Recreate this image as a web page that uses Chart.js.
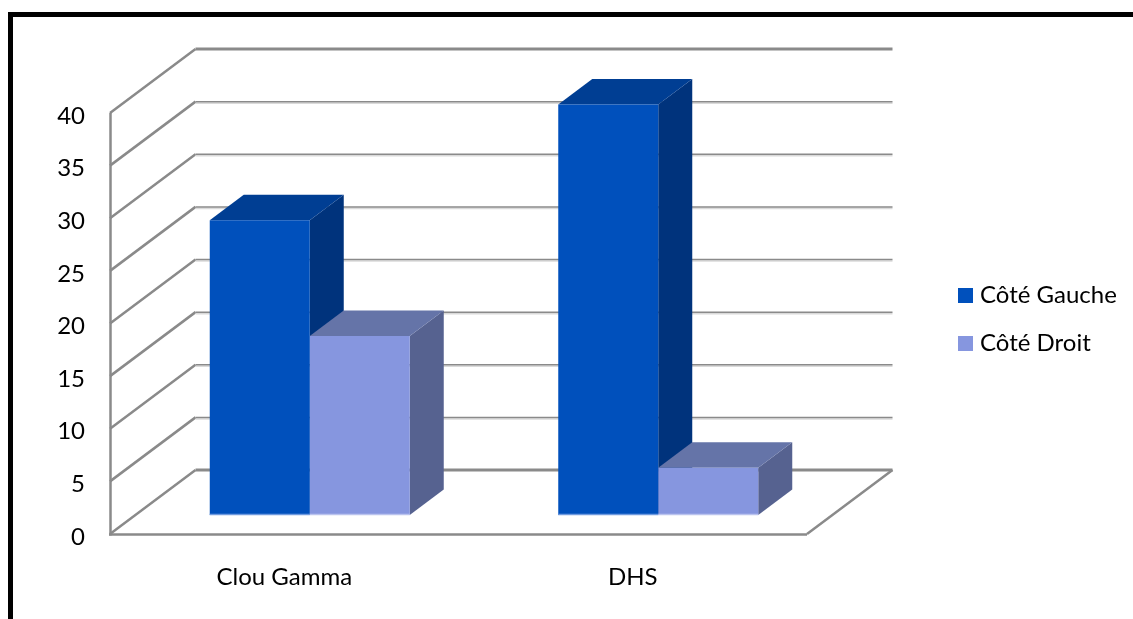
<!DOCTYPE html>
<html lang="fr">
<head>
<meta charset="utf-8">
<style>
html,body{margin:0;padding:0;background:#fff;width:1133px;height:619px;overflow:hidden}
#frame{position:absolute;left:8px;top:12px;width:1125px;height:607px;box-sizing:border-box;border-top:5px solid #000;border-left:5px solid #000}
#wrap{position:absolute;left:0;top:0;width:1133px;height:619px}
</style>
<script src="https://cdn.jsdelivr.net/npm/chart.js@4"></script>
</head>
<body>
<div id="frame"></div>
<div id="wrap"><canvas id="c" width="1133" height="619"></canvas></div>
<script>
const categories = ['Clou Gamma', 'DHS'];
const seriesNames = ['Côté Gauche', 'Côté Droit'];
const coteGauche = [28, 39];
const coteDroit = [17, 4.5];
const yTickStep = 5;
const yMax = 40;

const frontColors = ['#0050BC', '#8696DF'];
const topColors = ['#003E93', '#6574A8'];
const sideColors = ['#00337C', '#566290'];
const edgeColors = ['#6F9ADF', '#BAC3EE'];
const gridColor = '#8A8A8A';
const shadowColor = '#DADADA';
const fontFamily = 'Lato, "Open Sans", sans-serif';

const wallDx = 85.5, wallDy = 64;    // depth of the floor and side wall
const barDx = 25.5, barDy = 19;      // how far the bars sit from the front edge
const faceDx = 34, faceDy = 25.5;    // depth of each bar

function line(ctx, x1, y1, x2, y2, color, width) {
  ctx.strokeStyle = color; ctx.lineWidth = width;
  ctx.beginPath(); ctx.moveTo(x1, y1); ctx.lineTo(x2, y2); ctx.stroke();
}
function poly(ctx, pts, color) {
  ctx.fillStyle = color;
  ctx.beginPath();
  pts.forEach((p, i) => i ? ctx.lineTo(p[0], p[1]) : ctx.moveTo(p[0], p[1]));
  ctx.closePath(); ctx.fill();
}

const bars3d = {
  id: 'bars3d',
  beforeDraw(chart) {
    const lg = chart.legend;
    const pad = lg.options.labels.padding;
    const w = lg.width, h = lg.height;
    lg.left = 963 - pad; lg.right = lg.left + w;
    lg.top = 283.5 - pad; lg.bottom = lg.top + h;
  },
  beforeDatasetsDraw(chart) {
    const ctx = chart.ctx, a = chart.chartArea, y = chart.scales.y;
    ctx.save();
    ctx.lineCap = 'butt';
    // walls: each tick gives a line along the side wall and along the back wall
    y.ticks.forEach(t => {
      const py = y.getPixelForValue(t.value);
      const by = py - wallDy;
      const strong = t.value === 0 || t.value === yMax;
      line(ctx, a.left, py, a.left + wallDx, by, gridColor, 2.5);
      if (!strong) line(ctx, a.left + wallDx, by + 1.5, a.right + wallDx, by + 1.5, shadowColor, 1.5);
      line(ctx, a.left + wallDx, by, a.right + wallDx, by, gridColor, strong ? 3 : 1.5);
    });
    // front edges
    line(ctx, a.left + 0.5, a.top, a.left + 0.5, a.bottom + 1.5, gridColor, 2.5);
    line(ctx, a.left - 1, a.bottom + 0.5, a.right, a.bottom + 0.5, gridColor, 2.5);
    line(ctx, a.right, a.bottom, a.right + wallDx, a.bottom - wallDy, gridColor, 2.5);
    // side and top faces, left series first so the right one overlaps it
    [0, 1].forEach(ds => {
      chart.getDatasetMeta(ds).data.forEach(el => {
        const l = el.x - el.width / 2 + barDx, r = el.x + el.width / 2 + barDx;
        const t = el.y - barDy, b = el.base - barDy;
        poly(ctx, [[r, t], [r + faceDx, t - faceDy], [r + faceDx, b - faceDy], [r, b]], sideColors[ds]);
        poly(ctx, [[l, t], [l + faceDx, t - faceDy], [r + faceDx, t - faceDy], [r, t]], topColors[ds]);
      });
    });
    ctx.restore();
    ctx.save();
    ctx.translate(barDx, -barDy);
  },
  afterDatasetsDraw(chart) {
    const ctx = chart.ctx;
    [0, 1].forEach(ds => {
      chart.getDatasetMeta(ds).data.forEach(el => {
        line(ctx, el.x - el.width / 2, el.base - 0.5, el.x + el.width / 2, el.base - 0.5, edgeColors[ds], 1.5);
      });
    });
    ctx.restore();
  }
};

new Chart(document.getElementById('c'), {
  type: 'bar',
  data: {
    labels: categories,
    datasets: [
      { label: seriesNames[0], data: coteGauche, backgroundColor: frontColors[0], clip: false },
      { label: seriesNames[1], data: coteDroit, backgroundColor: frontColors[1], clip: false }
    ]
  },
  plugins: [bars3d],
  options: {
    responsive: false,
    animation: false,
    events: [],
    layout: { padding: { left: 0, top: 113, right: 326, bottom: 0 } },
    datasets: { bar: { categoryPercentage: 200 / 348.5, barPercentage: 1 } },
    scales: {
      x: {
        grid: { display: false, drawTicks: false },
        border: { display: false },
        afterFit(s) { s.height = 85; },
        ticks: { color: '#000', padding: 29, maxRotation: 0, font: { family: fontFamily, size: 24 } }
      },
      y: {
        min: 0, max: yMax,
        grid: { display: false, drawTicks: false },
        border: { display: false },
        afterFit(s) { s.width = 110; },
        ticks: { stepSize: yTickStep, color: '#000', padding: 25, labelOffset: 3, font: { family: fontFamily, size: 24 } }
      }
    },
    plugins: {
      tooltip: { enabled: false },
      legend: {
        position: 'chartArea',
        align: 'start',
        labels: {
          color: '#000',
          boxWidth: 5, boxHeight: 5, padding: 24,
          font: { family: fontFamily, size: 24 },
          generateLabels(chart) {
            return chart.data.datasets.map((d, i) => ({
              text: d.label, fillStyle: frontColors[i], strokeStyle: frontColors[i],
              lineWidth: 10, fontColor: '#000', datasetIndex: i, hidden: false
            }));
          }
        }
      }
    }
  }
});
</script>
</body>
</html>
